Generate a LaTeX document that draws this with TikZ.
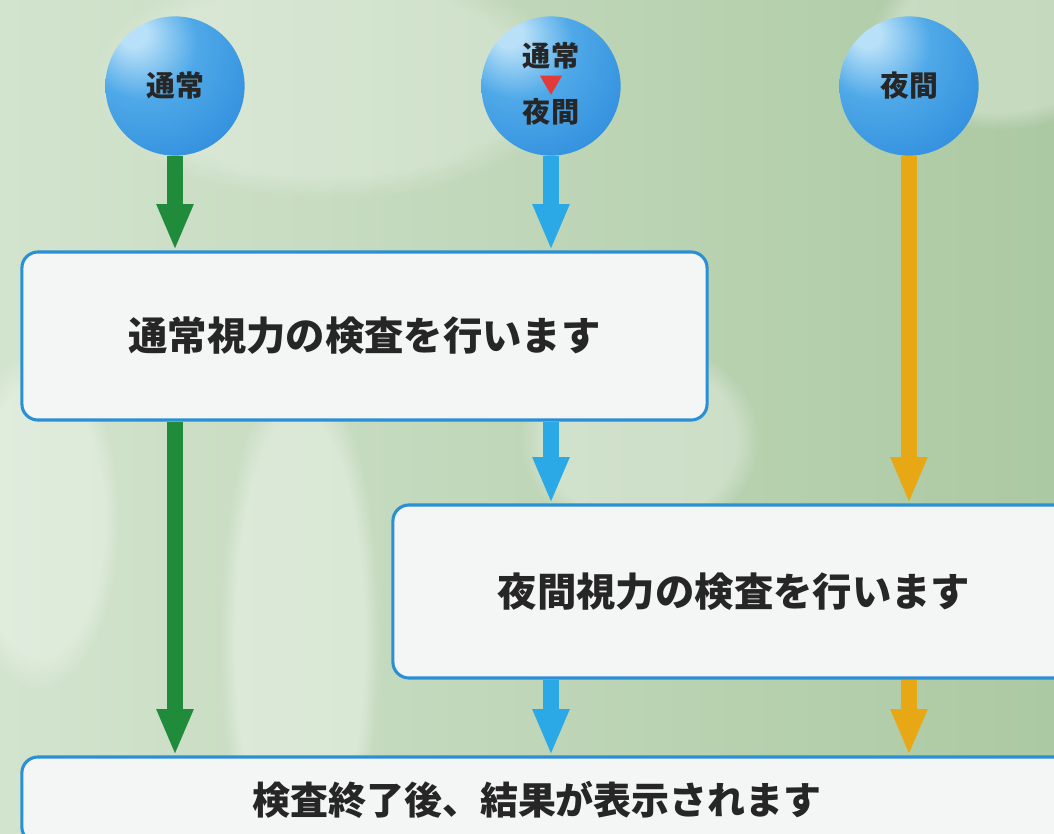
\documentclass[tikz,border=0pt]{standalone}
\usepackage{fontspec}
\newfontfamily\jpfont{Noto Sans CJK JP}
\usepackage{xcolor}
\usetikzlibrary{arrows.meta,positioning,shapes.geometric,fadings}
\definecolor{bgl}{HTML}{D3E4CE}
\definecolor{bgm}{HTML}{E1ECDE}
\definecolor{bgr}{HTML}{ABC9A2}
\definecolor{gflow}{HTML}{1F8B3B}
\definecolor{bflow}{HTML}{2AA9E6}
\definecolor{oflow}{HTML}{E8A815}
\definecolor{panelline}{HTML}{2B8FD6}
\definecolor{panelfill}{HTML}{F4F6F5}
\definecolor{txtdark}{HTML}{262626}
\definecolor{ballhi}{HTML}{B8E0F8}
\definecolor{ballmd}{HTML}{4FA9E8}
\definecolor{ballbase}{HTML}{3390DE}
\definecolor{balldk}{HTML}{2A7FD2}
\definecolor{turnred}{HTML}{E23A3A}
\pgfdeclareradialshading{bluesphere}{\pgfpoint{-16bp}{20bp}}{%
  color(0bp)=(ballhi); color(5bp)=(ballhi); color(20bp)=(ballmd);
  color(40bp)=(ballbase); color(66bp)=(balldk); color(85bp)=(balldk)}

\begin{document}
\begin{tikzpicture}[x=0.025cm,y=-0.025cm,
  ball/.style={circle,minimum size=3.48cm,inner sep=0pt,shading=bluesphere,
    text=txtdark,font=\jpfont\bfseries\fontsize{20.5}{21}\selectfont},
  balltext/.style={inner sep=0pt,text=txtdark,font=\jpfont\bfseries\fontsize{20}{21}\selectfont},
  panel/.style={draw=panelline,line width=2.2pt,fill=panelfill,rounded corners=0.4cm,
    inner sep=0pt,text=txtdark,font=\jpfont\bfseries\fontsize{28}{30}\selectfont},
  flow/.style={line width=11.5pt,-{Triangle[width=24pt,length=33pt]}},
  glow/.style={white,path fading=circle with fuzzy edge 20 percent}]
	\useasboundingbox (0,0) rectangle (1054,834);
	\clip (0,0) rectangle (1054,834);
	\shade[left color=bgl,middle color=bgm,right color=bgr] (0,0) rectangle (1054,834);
	\fill[glow,opacity=0.35] (300,640) ellipse (80 and 280);
	\fill[glow,opacity=0.3] (40,520) ellipse (80 and 170);
	\fill[glow,opacity=0.3] (640,440) ellipse (120 and 100);
	\fill[glow,opacity=0.25] (330,80) ellipse (240 and 120);
	\fill[glow,opacity=0.3] (1000,40) ellipse (130 and 90);

	\node[ball] (normal) at (175,86) {通常};
	\node[ball] (switch) at (551,86) {};
	\node[ball] (night) at (909,86) {夜間};
	\node[balltext] (switchtop) at (551,56) {通常};
	\node[regular polygon,regular polygon sides=3,shape border rotate=180,fill=turnred,
	  inner sep=0pt,minimum size=0.64cm] (turn) at (551,82) {};
	\node[balltext] (switchbot) at (551,112) {夜間};

	\node[panel,minimum width=17.125cm,minimum height=4.2cm] (normalchk) at (364.5,336) {通常視力の検査を行います};
	\node[panel,minimum width=17.05cm,minimum height=4.325cm] (nightchk) at (734,591.5) {夜間視力の検査を行います};
	\node[panel,minimum width=26.325cm,minimum height=2.15cm] (result) at (548.5,800) {};
	\node[inner sep=0pt,text=txtdark,font=\jpfont\bfseries\fontsize{27}{29}\selectfont] (resulttext) at (537,800) {検査終了後、結果が表示されます};

	\draw[flow,draw=gflow] (normal.south) -- (normal |- normalchk.north);
	\draw[flow,draw=gflow] (normal |- normalchk.south) -- (normal |- result.north);
	\draw[flow,draw=bflow] (switch.south) -- (switch |- normalchk.north);
	\draw[flow,draw=bflow] (switch |- normalchk.south) -- (switch |- nightchk.north);
	\draw[flow,draw=bflow] (switch |- nightchk.south) -- (switch |- result.north);
	\draw[flow,draw=oflow] (night.south) -- (night |- nightchk.north);
	\draw[flow,draw=oflow] (night |- nightchk.south) -- (night |- result.north);
\end{tikzpicture}
\end{document}
